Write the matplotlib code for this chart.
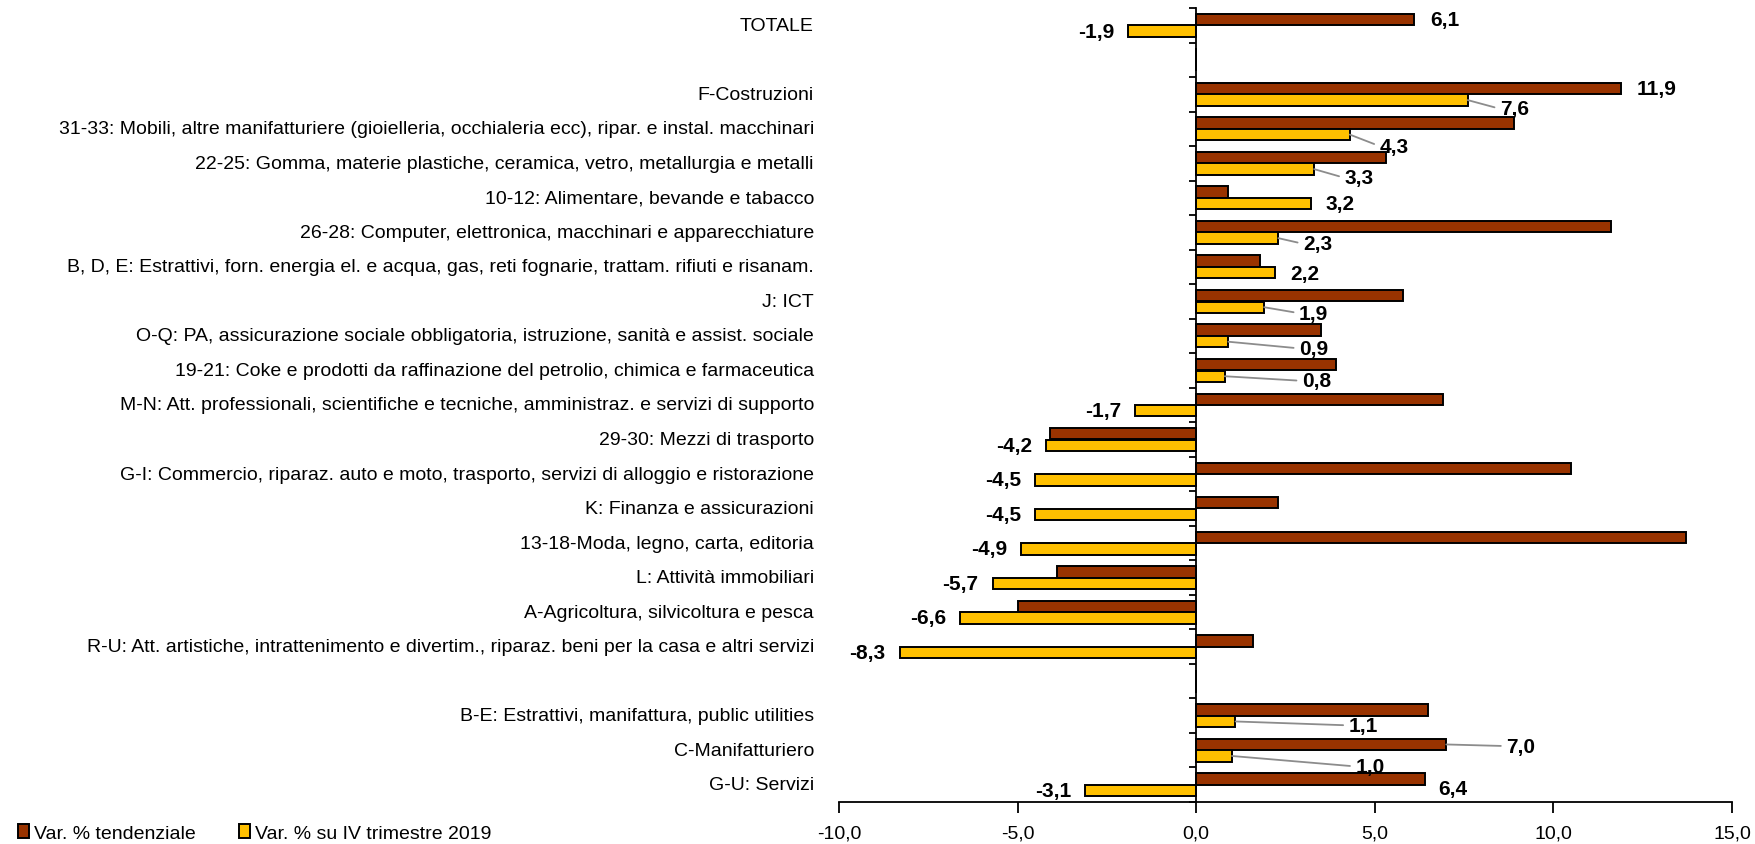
import matplotlib
matplotlib.use("Agg")
import matplotlib.pyplot as plt
import numpy as np

categories = [
    "TOTALE",
    "",
    "F-Costruzioni",
    "31-33: Mobili, altre manifatturiere (gioielleria, occhialeria ecc), ripar. e instal. macchinari",
    "22-25: Gomma, materie plastiche, ceramica, vetro, metallurgia e metalli",
    "10-12: Alimentare, bevande e tabacco",
    "26-28: Computer, elettronica, macchinari e apparecchiature",
    "B, D, E: Estrattivi, forn. energia el. e acqua, gas, reti fognarie, trattam. rifiuti e risanam.",
    "J: ICT",
    "O-Q: PA, assicurazione sociale obbligatoria, istruzione, sanità e assist. sociale",
    "19-21: Coke e prodotti da raffinazione del petrolio, chimica e farmaceutica",
    "M-N: Att. professionali, scientifiche e tecniche, amministraz. e servizi di supporto",
    "29-30: Mezzi di trasporto",
    "G-I: Commercio, riparaz. auto e moto, trasporto, servizi di alloggio e ristorazione",
    "K: Finanza e assicurazioni",
    "13-18-Moda, legno, carta, editoria",
    "L: Attività immobiliari",
    "A-Agricoltura, silvicoltura e pesca",
    "R-U: Att. artistiche, intrattenimento e divertim., riparaz. beni per la casa e altri servizi",
    "",
    "B-E: Estrattivi, manifattura, public utilities",
    "C-Manifatturiero",
    "G-U: Servizi",
]
nan = np.nan
var_tendenziale = [6.1, nan, 11.9, 8.9, 5.3, 0.9, 11.6, 1.8, 5.8, 3.5, 3.9, 6.9,
                   -4.1, 10.5, 2.3, 13.7, -3.9, -5.0, 1.6, nan, 6.5, 7.0, 6.4]
var_iv2019 = [-1.9, nan, 7.6, 4.3, 3.3, 3.2, 2.3, 2.2, 1.9, 0.9, 0.8, -1.7,
              -4.2, -4.5, -4.5, -4.9, -5.7, -6.6, -8.3, nan, 1.1, 1.0, -3.1]
series_names = ["Var. % tendenziale", "Var. % su IV trimestre 2019"]
x_ticks = [-10, -5, 0, 5, 10, 15]

# label placement (layout only): (row, series) -> (x_center, dy, leader)
label_layout = {
    (0, 0): (6.95, -0.17, False),
    (2, 0): (12.9, -0.17, False),
    (2, 1): (8.91, 0.42, True),
    (3, 1): (5.54, 0.50, True),
    (4, 1): (4.56, 0.42, True),
    (5, 1): (4.03, 0.17, False),
    (6, 1): (3.40, 0.33, True),
    (7, 1): (3.03, 0.18, False),
    (8, 1): (3.29, 0.34, True),
    (9, 1): (3.29, 0.36, True),
    (10, 1): (3.37, 0.30, True),
    (20, 1): (4.68, 0.28, True),
    (21, 0): (9.09, -0.12, True),
    (21, 1): (4.87, 0.47, True),
    (22, 0): (7.18, 0.12, False),
}
neg_label_rows = [0, 11, 12, 13, 14, 15, 16, 17, 18, 22]

DARK = "#993300"
YELLOW = "#FFC000"
FONT = ["Liberation Sans Narrow", "Liberation Sans", "DejaVu Sans"]
plt.rcParams["font.family"] = FONT

fig = plt.figure(figsize=(17.56, 8.45), dpi=100)
ax = fig.add_axes([839 / 1756, 1 - 803 / 845, (1732 - 839) / 1756, (803 - 9) / 845])

y = np.arange(len(categories))
h = 0.33
off = 0.167
v1 = np.array(var_tendenziale, dtype=float)
v2 = np.array(var_iv2019, dtype=float)
b1 = ax.barh(y - off, np.nan_to_num(v1), height=h, color=DARK, edgecolor="black", linewidth=1.4,
             label=series_names[0])
b2 = ax.barh(y + off, np.nan_to_num(v2), height=h, color=YELLOW, edgecolor="black", linewidth=1.4,
             label=series_names[1])

ax.set_xlim(-10, 15)
ax.set_ylim(len(categories) - 0.5, -0.5)

for s in ["top", "right"]:
    ax.spines[s].set_visible(False)
ax.spines["left"].set_position(("data", 0))
ax.spines["left"].set_linewidth(1.3)
ax.spines["bottom"].set_linewidth(1.3)
ax.set_yticks(np.arange(-0.5, len(categories) + 0.5, 1.0))
ax.set_yticklabels([])
ax.tick_params(axis="y", direction="out", length=5, width=1.3)
ax.set_xticks(x_ticks)
ax.set_xticklabels([f"{t:.1f}".replace(".", ",") for t in x_ticks], fontsize=14)
ax.tick_params(axis="x", direction="out", length=8, width=1.3, pad=8)

trans = ax.get_yaxis_transform()
for i, c in enumerate(categories):
    if c:
        ax.text(-0.028, i, c, transform=trans, ha="right", va="center", fontsize=14)

def fmt(v):
    return f"{v:.1f}".replace(".", ",")

vals = [v1, v2]
for (row, s), (xc, dy, leader) in label_layout.items():
    v = vals[s][row]
    bar_y = row - off if s == 0 else row + off
    if leader:
        ax.annotate(fmt(v), xy=(v, bar_y), xytext=(xc, row + dy), ha="center", va="center",
                    fontsize=15, fontweight="bold",
                    arrowprops=dict(arrowstyle="-", color="#8c8c8c", lw=1.3,
                                    relpos=(0, 0.5), shrinkA=2, shrinkB=0))
    else:
        ax.text(xc, row + dy, fmt(v), ha="center", va="center", fontsize=15, fontweight="bold")

for row in neg_label_rows:
    v = v2[row]
    ax.text(v - 0.4, row + off, fmt(v), ha="right", va="center", fontsize=15, fontweight="bold")

fig.legend(handles=[b1, b2], labels=series_names, loc="lower left", bbox_to_anchor=(0.0, -0.018),
           ncol=2, frameon=False, fontsize=14, handlelength=0.6, handleheight=0.7,
           handletextpad=0.25, columnspacing=2.2)

fig.savefig("out.png", dpi=100)
